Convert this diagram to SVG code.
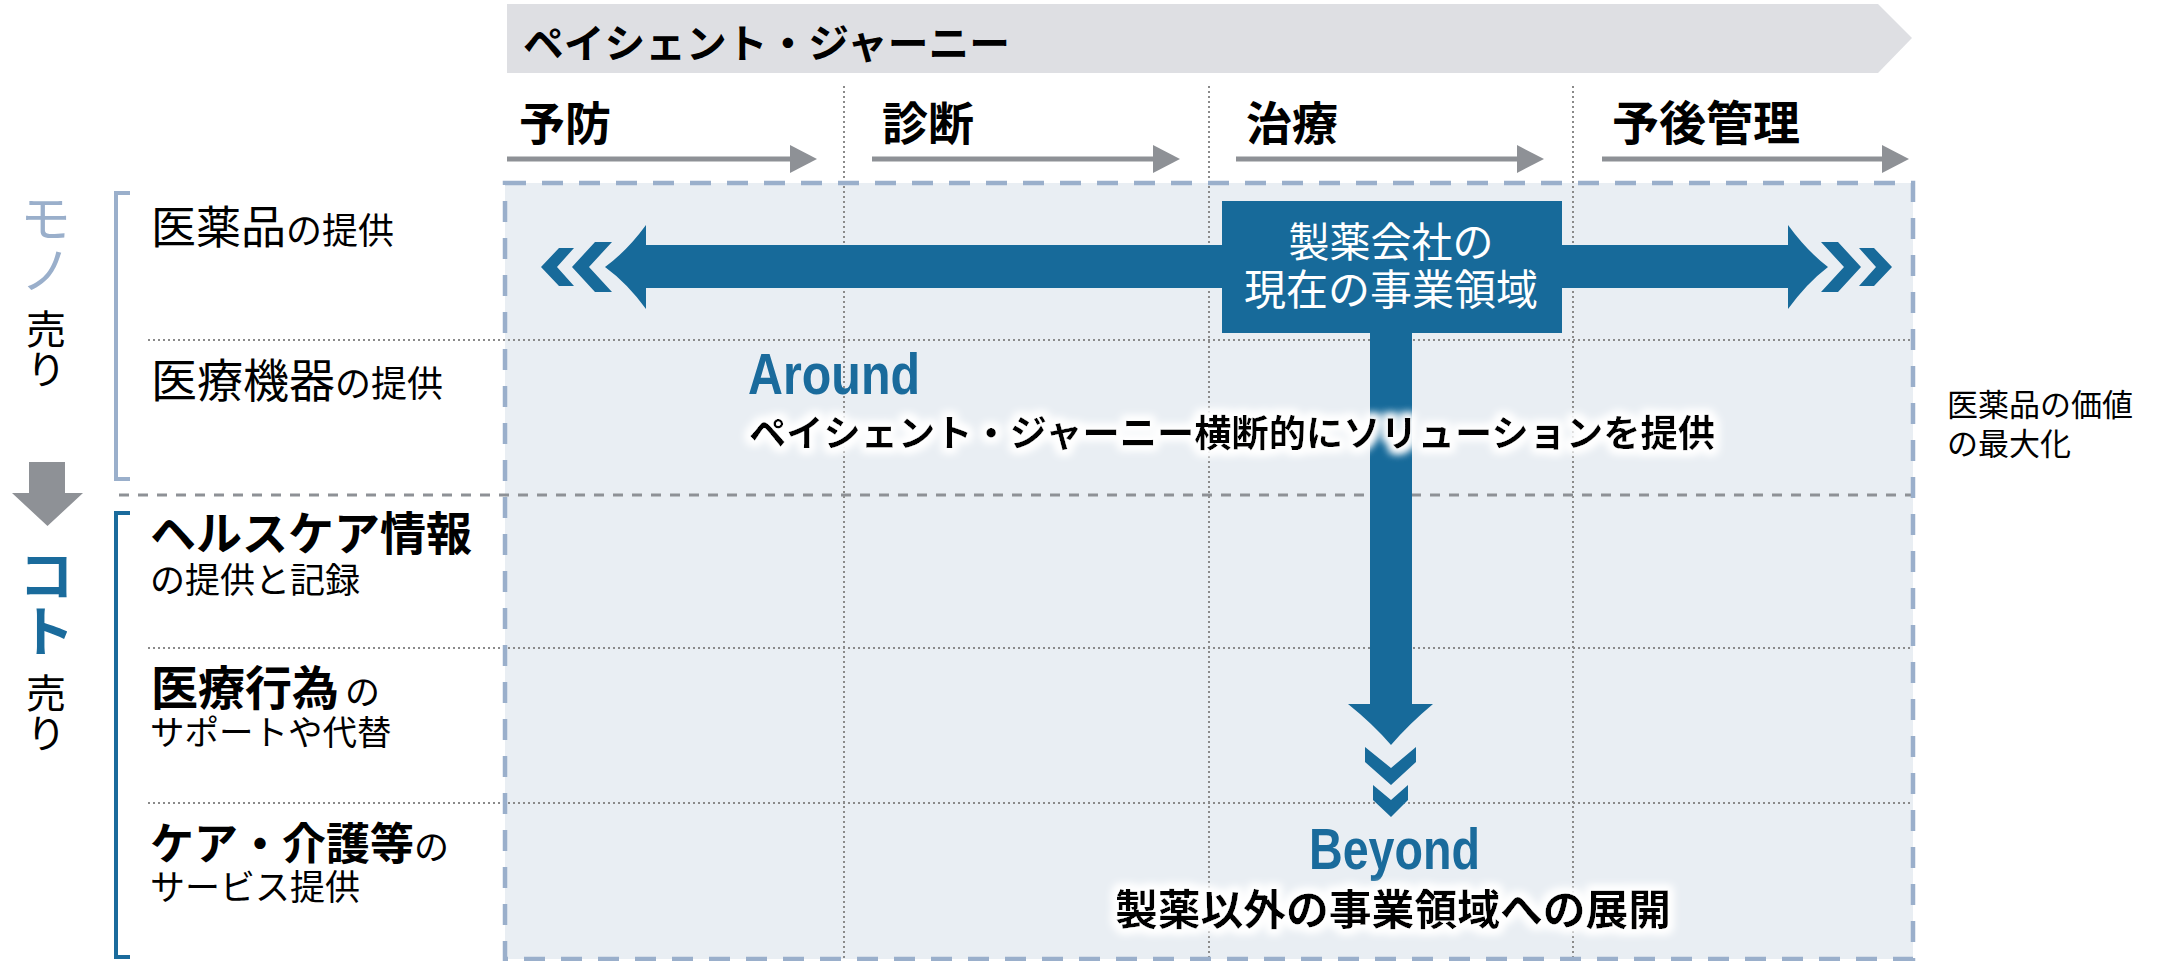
<svg xmlns="http://www.w3.org/2000/svg" width="2164" height="961" viewBox="0 0 2164 961">
<defs>
<style>
.jp{font-family:"Noto Sans CJK JP","Noto Sans CJK SC",sans-serif;fill:#000}
.b{font-weight:700}
.r{font-weight:400}
.vt{writing-mode:vertical-rl;text-orientation:upright}
.dot{stroke:#8a8a8a;stroke-width:2;stroke-dasharray:2 3;fill:none}
.blue{fill:#176A9A}
.en{font-family:"Liberation Sans",Arial,sans-serif;font-weight:700;fill:#1A6B9C}
.stage{stroke:#8E9196;stroke-width:5;fill:none}
</style>
<marker id="ga" markerUnits="userSpaceOnUse" markerWidth="28" markerHeight="28" refX="0" refY="14" orient="auto">
<path d="M0,0 L27,14 L0,28 Z" fill="#8E9196"/>
</marker>
<filter id="halo" x="-5%" y="-40%" width="110%" height="180%">
<feMorphology in="SourceAlpha" operator="dilate" radius="3.5" result="d"/>
<feGaussianBlur in="d" stdDeviation="4" result="bl"/>
<feFlood flood-color="#ffffff" flood-opacity="1"/>
<feComposite in2="bl" operator="in" result="w"/>
<feMerge><feMergeNode in="w"/><feMergeNode in="w"/><feMergeNode in="SourceGraphic"/></feMerge>
</filter>
</defs>
<rect width="2164" height="961" fill="#ffffff"/>

<g id="journey-header">
<polygon points="507,4 1878,4 1912,38 1878,73 507,73" fill="#DEDFE3"/>
<text x="523" y="58" class="jp b" font-size="40" textLength="487" lengthAdjust="spacingAndGlyphs">ペイシェント・ジャーニー</text>
</g>

<g id="matrix-area">
<rect x="505" y="183" width="1408" height="776" fill="#E9EEF3"/>
</g>

<g id="grid">
<line class="dot" x1="844" y1="86" x2="844" y2="959"/>
<line class="dot" x1="1209" y1="86" x2="1209" y2="959"/>
<line class="dot" x1="1573" y1="86" x2="1573" y2="959"/>
<line class="dot" x1="148" y1="340" x2="1913" y2="340"/>
<line class="dot" x1="148" y1="648" x2="1913" y2="648"/>
<line class="dot" x1="148" y1="803" x2="1913" y2="803"/>
<line x1="119" y1="495" x2="1913" y2="495" stroke="#8E9196" stroke-width="3" stroke-dasharray="10 9"/>
<rect x="505" y="183" width="1408" height="776" fill="none" stroke="#9AAFCB" stroke-width="4.5" stroke-dasharray="21 16"/>
</g>

<g id="stage-prevention">
<text x="519" y="140" class="jp b" font-size="46">予防</text>
<line class="stage" x1="507" y1="159" x2="790" y2="159" marker-end="url(#ga)"/>
</g>
<g id="stage-diagnosis">
<text x="882" y="140" class="jp b" font-size="46">診断</text>
<line class="stage" x1="872" y1="159" x2="1153" y2="159" marker-end="url(#ga)"/>
</g>
<g id="stage-treatment">
<text x="1246" y="140" class="jp b" font-size="46">治療</text>
<line class="stage" x1="1236" y1="159" x2="1517" y2="159" marker-end="url(#ga)"/>
</g>
<g id="stage-aftercare">
<text x="1612" y="140" class="jp b" font-size="47">予後管理</text>
<line class="stage" x1="1602" y1="159" x2="1882" y2="159" marker-end="url(#ga)"/>
</g>

<g id="mono-label">
<text x="46" y="192" class="jp r vt" font-size="52" style="fill:#9AAFCB">モノ</text>
<text x="46" y="309" class="jp r vt" font-size="40">売り</text>
<polyline points="130,193 116,193 116,479 130,479" fill="none" stroke="#9AAFCB" stroke-width="4"/>
</g>

<g id="shift-arrow">
<polygon points="29,462 65,462 65,493 83,493 47.5,526 12,493 29,493" fill="#8E9196"/>
</g>

<g id="koto-label">
<text x="47" y="547" class="jp b vt" font-size="56" style="fill:#1A6B9C">コト</text>
<text x="46" y="673" class="jp r vt" font-size="40">売り</text>
<polyline points="130,513 116,513 116,957 130,957" fill="none" stroke="#1A6B9C" stroke-width="4"/>
</g>

<g id="row-medicine">
<text x="151" y="244" class="jp r"><tspan font-size="45">医薬品</tspan><tspan font-size="36">の提供</tspan></text>
</g>
<g id="row-device">
<text x="151" y="397" class="jp r"><tspan font-size="46">医療機器</tspan><tspan font-size="36">の提供</tspan></text>
</g>
<g id="row-healthinfo">
<text class="jp"><tspan x="150" y="550" class="b" font-size="46">ヘルスケア情報</tspan><tspan x="150" y="593" class="r" font-size="35">の提供と記録</tspan></text>
</g>
<g id="row-medical-act">
<text class="jp"><tspan x="151" y="705" class="b" font-size="47">医療行為</tspan><tspan class="r" font-size="35" dx="6">の</tspan><tspan x="150" y="745" class="r" font-size="34.5">サポートや代替</tspan></text>
</g>
<g id="row-care">
<text class="jp"><tspan x="150" y="860" class="b" font-size="44">ケア・介護等</tspan><tspan class="r" font-size="35">の</tspan><tspan x="150" y="900" class="r" font-size="35">サービス提供</tspan></text>
</g>

<g id="connectors">
<path class="blue" d="M605,267 Q627,251 646,225 L646,245 L1788,245 L1788,225 Q1807,251 1828,267 Q1807,283 1788,309 L1788,288 L646,288 L646,309 Q627,283 605,267 Z"/>
<polygon class="blue" points="572,267 595,242 612,242 589,267 612,292 595,292"/>
<polygon class="blue" points="541,267 559,248 574,248 557,267 574,286 559,286"/>
<polygon class="blue" points="1861,267 1838,242 1821,242 1844,267 1821,292 1838,292"/>
<polygon class="blue" points="1892,267 1874,248 1859,248 1876,267 1859,286 1874,286"/>
<path class="blue" d="M1370,320 L1412,320 L1412,704 L1433,704 Q1409,724 1391,745 Q1373,724 1348,704 L1370,704 Z"/>
<polygon class="blue" points="1365,747 1391,768 1416,747 1416,762 1391,785 1365,762"/>
<polygon class="blue" points="1373,785 1391,800 1408,785 1408,800 1391,817 1373,800"/>
</g>

<g id="current-business">
<rect x="1222" y="201" width="340" height="132" fill="#176A9A"/>
<text text-anchor="middle" class="jp r" style="fill:#ffffff"><tspan x="1391" y="257" font-size="41">製薬会社の</tspan><tspan x="1391" y="305" font-size="42">現在の事業領域</tspan></text>
</g>

<g id="around-label">
<text x="748" y="394" class="en" font-size="57" textLength="172" lengthAdjust="spacingAndGlyphs">Around</text>
<text x="749" y="447" class="jp b" font-size="37" textLength="966" lengthAdjust="spacingAndGlyphs" filter="url(#halo)">ペイシェント・ジャーニー横断的にソリューションを提供</text>
</g>

<g id="beyond-label">
<text x="1309" y="869" class="en" font-size="57" textLength="171" lengthAdjust="spacingAndGlyphs">Beyond</text>
<text x="1115" y="925" class="jp b" font-size="42" textLength="556" lengthAdjust="spacingAndGlyphs" filter="url(#halo)">製薬以外の事業領域への展開</text>
</g>

<g id="value-note">
<text class="jp r" font-size="31"><tspan x="1947" y="416">医薬品の価値</tspan><tspan x="1947" y="455">の最大化</tspan></text>
</g>
</svg>
